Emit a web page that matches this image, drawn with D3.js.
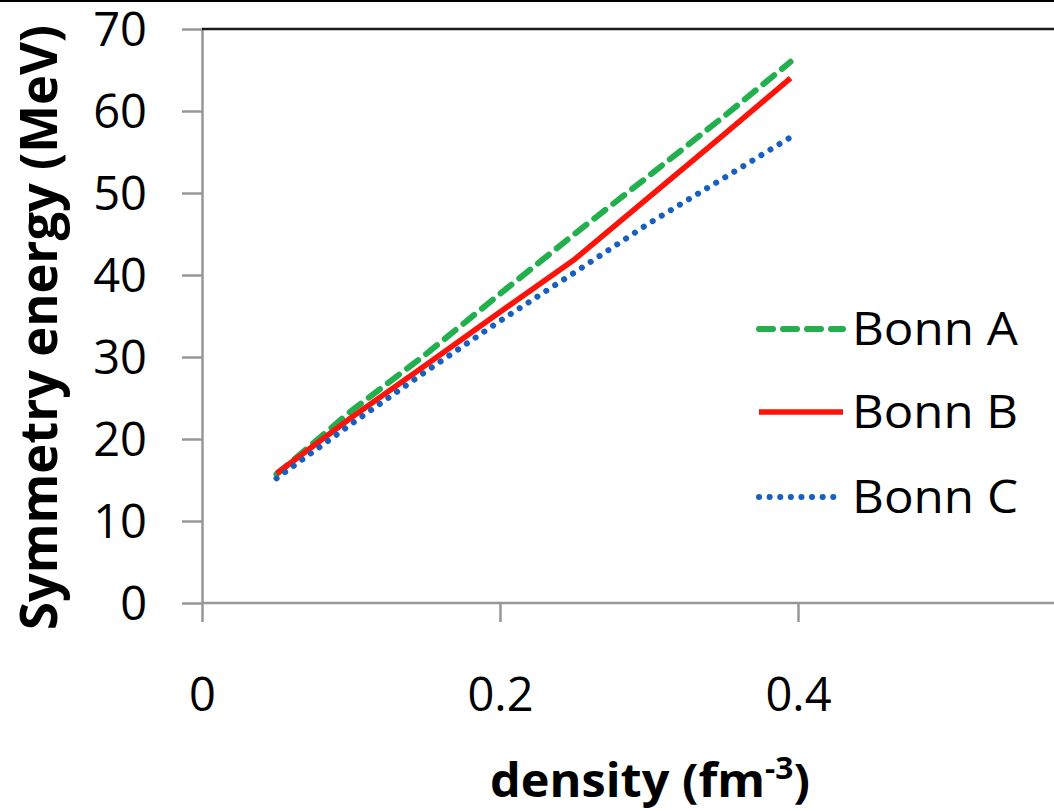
<!DOCTYPE html>
<html>
    <head>
        <meta charset="utf-8">
        <title>Symmetry energy</title>
        <script type="text/javascript" src="https://cdn.jsdelivr.net/npm/d3@7"></script>
        <style>
            body{ margin:0; background:white; }
            .axis path, .axis line{
                stroke: #979797;
                stroke-width: 2.5;
                fill: none;
            }
            .axis text{
                font-family: "Open Sans", sans-serif;
                font-size: 47px;
                fill: black;
            }
            .title{
                font-family: "Open Sans", sans-serif;
                font-weight: bold;
                fill: black;
            }
            .legendlabel{
                font-family: "Open Sans", sans-serif;
                font-size: 45px;
                fill: black;
            }
        </style>
    </head>
    <body>
        <script type="text/javascript">
            let w = 1054
            let h = 811

            // data
            let density = [0.05, 0.1, 0.15, 0.2, 0.25, 0.3, 0.35, 0.395]
            let bonnA = [15.7, 23.4, 30.3, 37.7, 45.0, 52.1, 59.3, 66.0]
            let bonnB = [15.8, 22.6, 29.0, 35.5, 41.9, 49.5, 57.1, 64.0]
            let bonnC = [15.2, 21.8, 28.2, 34.4, 40.3, 46.3, 51.8, 56.8]
            let seriesNames = ["Bonn A", "Bonn B", "Bonn C"]
            let yTicks = [0, 10, 20, 30, 40, 50, 60, 70]
            let xTicks = [0, 0.2, 0.4]

            let styles = [
                {color: "#22b04e", width: 6, dash: "14,10", cap: "round"},
                {color: "#ff1208", width: 5.5, dash: null, cap: "butt"},
                {color: "#1760c0", width: 6, dash: "0.1,10.5", cap: "round"}
            ]

            let svg = d3.select("body")
                        .append("svg")
                        .attr("width", w)
                        .attr("height", h)

            let x = d3.scaleLinear().domain([0, 0.4]).range([202, 798])
            let y = d3.scaleLinear().domain([0, 70]).range([603, 29])

            // y axis
            let yg = svg.append("g")
                .attr("class", "axis")
                .attr("transform", "translate(" + x(0) + ",0)")
                .call(d3.axisLeft(y).tickValues(yTicks).tickFormat(d3.format("d"))
                        .tickSize(20).tickSizeOuter(0).tickPadding(35))
            yg.selectAll("text").attr("dy", "0.36em")

            // x axis (line runs on to the right edge)
            let xg = svg.append("g")
                .attr("class", "axis")
                .attr("transform", "translate(0," + y(0) + ")")
                .call(d3.axisBottom(x).tickValues(xTicks).tickFormat(d => d === 0 ? "0" : d3.format(".1f")(d))
                        .tickSize(19).tickSizeOuter(0).tickPadding(56))
            xg.select(".domain").remove()
            xg.append("line")
                .attr("x1", x(0)).attr("x2", w)
                .attr("y1", 0).attr("y2", 0)

            // top border of plot area and of the picture
            svg.append("line")
                .attr("x1", x(0)).attr("x2", w)
                .attr("y1", y(70)).attr("y2", y(70))
                .attr("stroke", "#1a1a1a").attr("stroke-width", 2.5)
            svg.append("line")
                .attr("x1", 0).attr("x2", w)
                .attr("y1", 1).attr("y2", 1)
                .attr("stroke", "black").attr("stroke-width", 2)

            // traces
            let line = d3.line()
                        .x(d => x(d[0]))
                        .y(d => y(d[1]))
            let allSeries = [bonnA, bonnB, bonnC]
            allSeries.forEach((vals, i) => {
                let s = styles[i]
                svg.append("path")
                    .datum(density.map((d, j) => [d, vals[j]]))
                    .attr("d", line)
                    .attr("fill", "none")
                    .attr("stroke", s.color)
                    .attr("stroke-width", s.width)
                    .attr("stroke-dasharray", s.dash)
                    .attr("stroke-linecap", s.cap)
                    .attr("stroke-linejoin", "round")
            })

            // legend
            let legendY = [329, 412, 497]
            seriesNames.forEach((name, i) => {
                let s = styles[i]
                svg.append("line")
                    .attr("x1", 759).attr("x2", 843)
                    .attr("y1", legendY[i]).attr("y2", legendY[i])
                    .attr("stroke", s.color)
                    .attr("stroke-width", s.width)
                    .attr("stroke-dasharray", s.dash)
                    .attr("stroke-linecap", s.cap)
                svg.append("text")
                    .attr("class", "legendlabel")
                    .attr("x", 852)
                    .attr("y", legendY[i] + 16)
                    .attr("textLength", 166)
                    .attr("lengthAdjust", "spacingAndGlyphs")
                    .text(name)
            })

            // axis titles
            let xt = svg.append("text")
                .attr("class", "title")
                .attr("x", 490)
                .attr("y", 797)
                .attr("font-size", 46)
                .attr("textLength", 320)
                .attr("lengthAdjust", "spacingAndGlyphs")
            xt.append("tspan").text("density (fm")
            xt.append("tspan").attr("font-size", 30).attr("dy", -18).text("-3")
            xt.append("tspan").attr("dy", 18).text(")")

            svg.append("text")
                .attr("class", "title")
                .attr("transform", "translate(57,630) rotate(-90)")
                .attr("font-size", 52)
                .attr("textLength", 605)
                .attr("lengthAdjust", "spacingAndGlyphs")
                .text("Symmetry energy (MeV)")
        </script>
    </body>
</html>
